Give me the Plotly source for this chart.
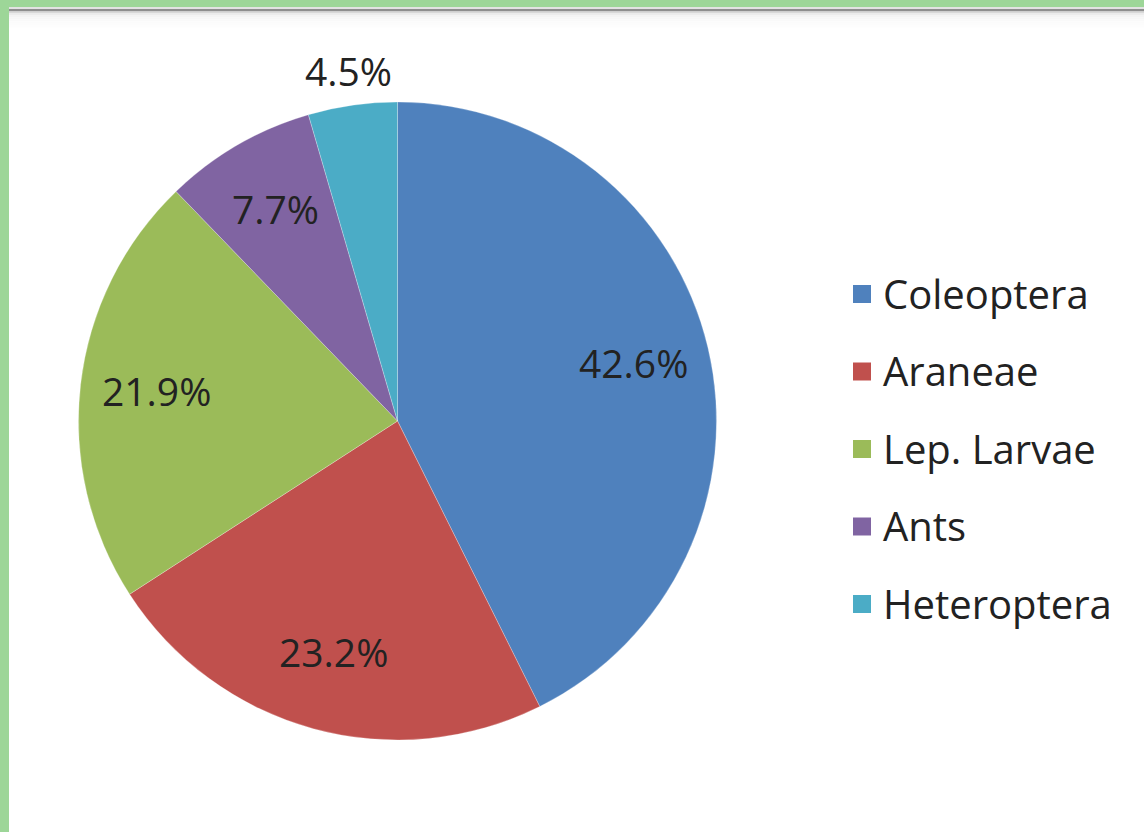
import math
import plotly.graph_objects as go

# Diet composition shares (%)
categories = ["Coleoptera", "Araneae", "Lep. Larvae", "Ants", "Heteroptera"]
shares = [42.6, 23.2, 21.9, 7.7, 4.5]
colors = ["#4F81BD", "#C0504D", "#9BBB59", "#8064A2", "#4BACC6"]

W, H = 1144, 832
FONT = "Open Sans"
TEXT_COLOR = "#222222"

# Pie geometry in pixels
CX, CY, R = 397.5, 421.0, 319.0


def px_x(x):
    return x / W


def px_y(y):
    return 1 - y / H


fig = go.Figure()
fig.add_trace(go.Pie(
    labels=categories,
    values=shares,
    sort=False,
    direction="clockwise",
    rotation=0,
    marker=dict(colors=colors, line=dict(color="rgba(255,255,255,0.25)", width=1)),
    textinfo="none",
    hoverinfo="label+percent",
    showlegend=False,
    domain=dict(x=[px_x(CX - R), px_x(CX + R)], y=[px_y(CY + R), px_y(CY - R)]),
))

annotations = []
shapes = []

# Percentage labels placed at the middle angle of each slice
total = sum(shares)
cum = 0.0
for val in shares:
    mid = (cum + val / 2) / total
    cum += val
    theta = 2 * math.pi * mid
    k = 1.10 if val < 5 else 0.76
    lx = CX + k * R * math.sin(theta)
    ly = CY - k * R * math.cos(theta)
    annotations.append(dict(
        x=px_x(lx), y=px_y(ly - 3), xref="paper", yref="paper",
        text=f"{val:.1f}%", showarrow=False,
        xanchor="center", yanchor="middle",
        font=dict(family=FONT, size=39, color=TEXT_COLOR),
    ))

# Legend: colour swatch + category name
LEG_X, LEG_Y0, LEG_STEP, SW = 853, 293, 77.5, 18
for i, (name, col) in enumerate(zip(categories, colors)):
    yc = LEG_Y0 + i * LEG_STEP
    shapes.append(dict(
        type="rect", xref="paper", yref="paper",
        x0=px_x(LEG_X), x1=px_x(LEG_X + SW),
        y0=px_y(yc + SW / 2 + 1), y1=px_y(yc - SW / 2 + 1),
        fillcolor=col, line=dict(width=0),
    ))
    annotations.append(dict(
        x=px_x(LEG_X + SW + 10), y=px_y(yc), xref="paper", yref="paper",
        text=name, showarrow=False, xanchor="left", yanchor="middle",
        font=dict(family=FONT, size=40, color=TEXT_COLOR),
    ))

# Page frame: green strips at top and left, grey rule under the top strip
GREEN = "#9dd698"
shapes += [
    dict(type="rect", xref="paper", yref="paper", x0=0, x1=1, y0=px_y(7), y1=1,
         fillcolor=GREEN, line=dict(width=0), layer="below"),
    dict(type="rect", xref="paper", yref="paper", x0=0, x1=px_x(9), y0=0, y1=1,
         fillcolor=GREEN, line=dict(width=0), layer="below"),
    dict(type="rect", xref="paper", yref="paper", x0=px_x(9), x1=1, y0=px_y(9), y1=px_y(7),
         fillcolor="#e2e2e2", line=dict(width=0), layer="below"),
    dict(type="rect", xref="paper", yref="paper", x0=px_x(9), x1=1, y0=px_y(11.5), y1=px_y(9),
         fillcolor="#8e8e8e", line=dict(width=0), layer="below"),
]
# soft fade below the grey rule
fade = ["#d8d8d8", "#ececec", "#f4f4f4", "#f7f7f7", "#f9f9f9", "#fbfbfb", "#fcfcfc", "#fdfdfd"]
for j, c in enumerate(fade):
    y_top = 11.5 + j * 2
    shapes.append(dict(type="rect", xref="paper", yref="paper", x0=px_x(9), x1=1,
                       y0=px_y(y_top + 2), y1=px_y(y_top),
                       fillcolor=c, line=dict(width=0), layer="below"))

fig.update_layout(
    width=W, height=H,
    margin=dict(l=0, r=0, t=0, b=0, pad=0),
    paper_bgcolor="white",
    plot_bgcolor="white",
    shapes=shapes,
    annotations=annotations,
    showlegend=False,
)

fig.write_html("out.html")
